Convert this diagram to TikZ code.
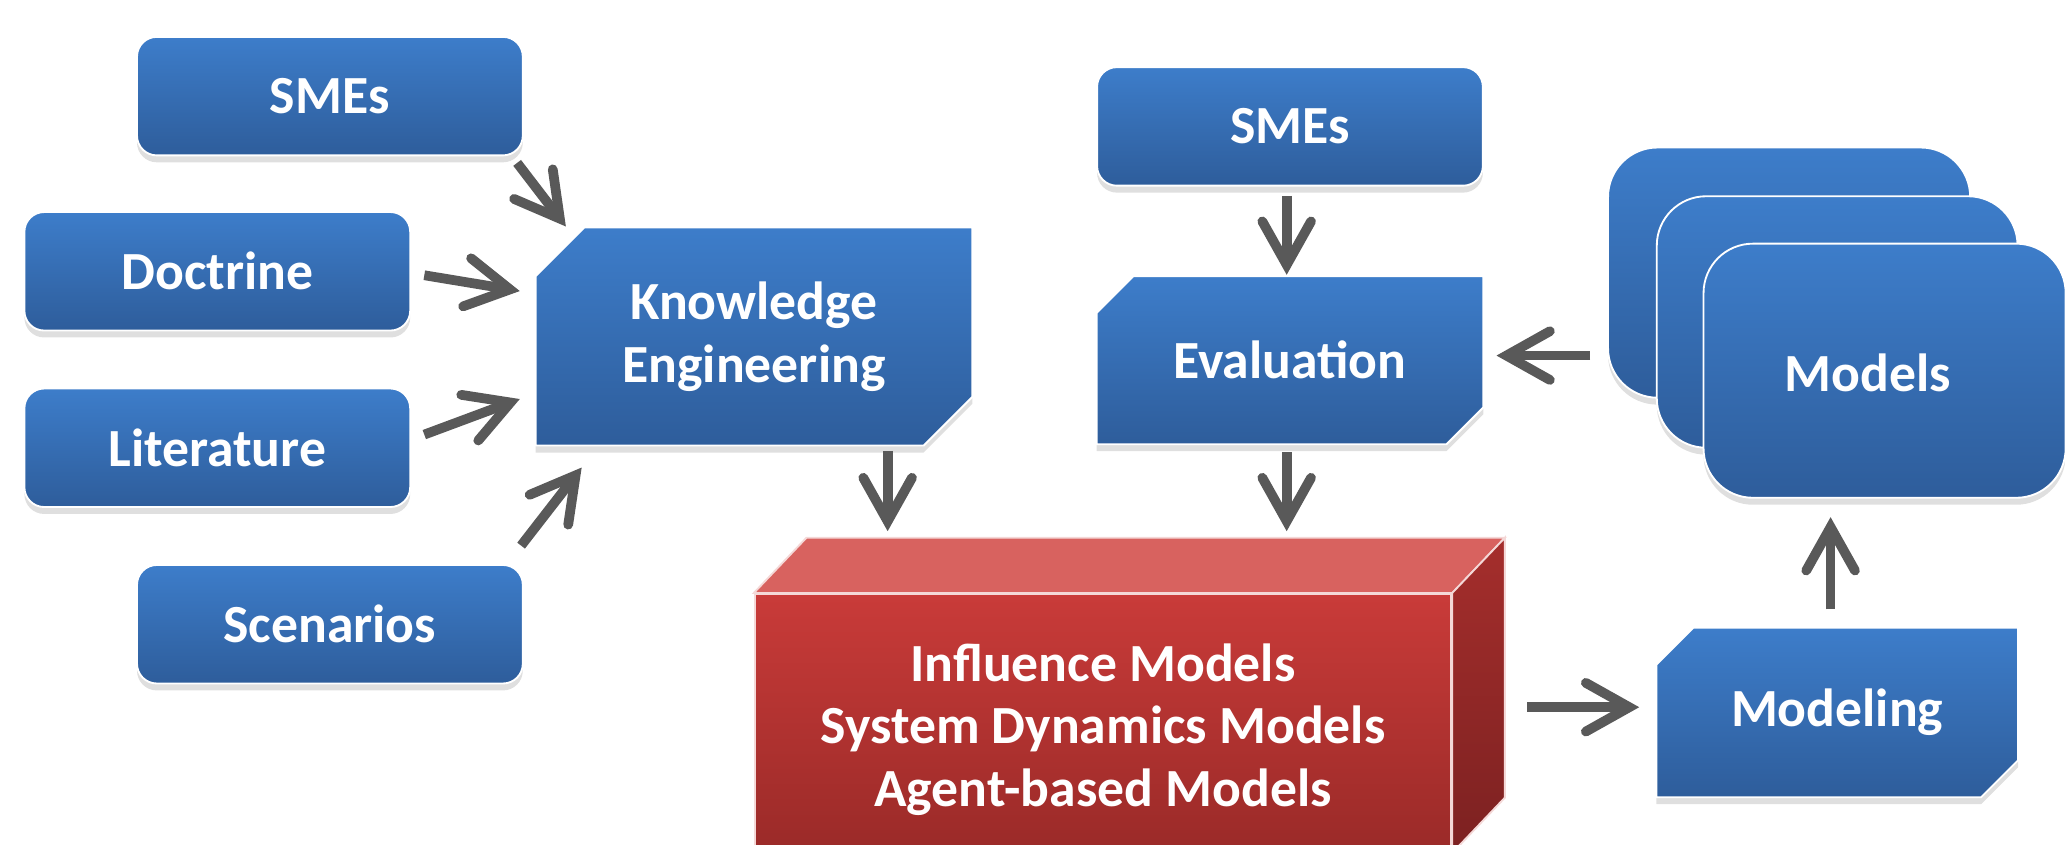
\documentclass[tikz,border=0pt]{standalone}
\usepackage{fontspec}
\setmainfont{Carlito}
\usetikzlibrary{arrows.meta,shadows,calc,backgrounds}
\definecolor{btop}{HTML}{3D7DCA}
\definecolor{bbot}{HTML}{2E5D9B}
\definecolor{rtop}{HTML}{C93B39}
\definecolor{rbot}{HTML}{9A2A28}
\definecolor{rtopface}{HTML}{D8625F}
\definecolor{rside1}{HTML}{A52E2C}
\definecolor{rside2}{HTML}{7C2121}
\definecolor{arr}{HTML}{595959}
\tikzset{
 fillstyle/.style={draw=white, line width=0.8pt, top color=btop, bottom color=bbot,
   drop shadow={shadow xshift=0pt, shadow yshift=-3pt, opacity=0.25}},
 lbl/.style={text=white, font=\fontsize{23.2}{27}\selectfont\bfseries, align=center, inner sep=0pt},
 base/.style={fillstyle, lbl},
 rbox/.style={base, rectangle, rounded corners=0.3cm, minimum width=5.86cm, minimum height=1.8cm},
 cbox/.style={lbl, rectangle},
 mbox/.style={base, rectangle, rounded corners=0.75cm},
 flow/.style={draw=arr, line width=4.2pt, -{Straight Barb[length=0.66cm,width=0.74cm,line cap=round,line join=miter]}},
}
\begin{document}
\begin{tikzpicture}[x=0.02cm, y=-0.02cm]
\useasboundingbox (0,0) rectangle (1568,641);
\clip (0,0) rectangle (1568,641);
% left inputs
\node[rbox] (sme1) at (250.5,73) {SMEs};
\node[rbox] (doc) at (165,206) {Doctrine};
\node[rbox] (lit) at (165,340) {Literature};
\node[rbox] (scen) at (250.5,474) {Scenarios};
% chamfered boxes (text nodes; outlines drawn on the background layer)
\node[cbox, minimum width=6.62cm, minimum height=3.3cm] (ke) at (572.5,255.5) {Knowledge\\Engineering};
\node[rbox] (sme2) at (979.5,96) {SMEs};
\node[cbox, minimum width=5.86cm, minimum height=2.54cm] (eval) at (979.5,273.5) {Evaluation};
\node[cbox, minimum width=5.48cm, minimum height=2.56cm] (modeling) at (1395,541) {Modeling};
\begin{scope}[on background layer]
\path[fillstyle] ($(ke.north west)+(37,0)$) -- (ke.north east) -- ($(ke.south east)+(0,-37)$) -- ($(ke.south east)+(-37,0)$) -- (ke.south west) -- ($(ke.north west)+(0,37)$) -- cycle;
\path[fillstyle] ($(eval.north west)+(28,0)$) -- (eval.north east) -- ($(eval.south east)+(0,-28)$) -- ($(eval.south east)+(-28,0)$) -- (eval.south west) -- ($(eval.north west)+(0,28)$) -- cycle;
\path[fillstyle] ($(modeling.north west)+(28,0)$) -- (modeling.north east) -- ($(modeling.south east)+(0,-28)$) -- ($(modeling.south east)+(-28,0)$) -- (modeling.south west) -- ($(modeling.north west)+(0,28)$) -- cycle;
\end{scope}
% models stack
\node[mbox, minimum width=5.5cm, minimum height=3.8cm] (mback) at (1358.5,207) {};
\node[mbox, minimum width=5.48cm, minimum height=3.82cm] (mmid) at (1395,244.5) {};
\node[mbox, minimum width=5.5cm, minimum height=3.86cm] (mfront) at (1431,281.5) {};
\node[lbl] (mlabel) at (1418,283) {Models};
% red box
\node[draw=white!80!rtop, line width=0.8pt, top color=rtop, bottom color=rbot, minimum width=10.58cm, minimum height=3.92cm] (red) at (837.5,549) {};
\fill[rtopface, draw=white!80!rtop, line width=0.8pt] (red.north west) -- ++(40,-42) -- ($(red.north east)+(40,-42)$) -- (red.north east) -- cycle;
\shade[top color=rside1, bottom color=rside2, draw=white!80!rtop, line width=0.8pt] (red.north east) -- ++(40,-42) -- ($(red.south east)+(40,-42)$) -- (red.south east) -- cycle;
\node[lbl] (redlabel) at (837.5,554) {Influence Models\\System Dynamics Models\\Agent-based Models};
% arrows
\draw[flow] ($(sme1.south east)+(-5,5)$) -- ($(ke.west)+(23,-83.5)$);
\draw[flow] ($(doc.east)+(10,3)$) -- ($(ke.west)+(-12,-34.5)$);
\draw[flow] ($(lit.east)+(10,-10)$) -- ($(ke.west)+(-12,47.5)$);
\draw[flow] ($(scen.north east)+(-2,-14)$) -- ($(ke.west)+(35,99.5)$);
\draw[flow] ($(ke.south)+(101.5,4)$) -- ($(ke.south)+(101.5,65)$);
\draw[flow] ($(sme2.south)+(-2.5,7)$) -- ($(eval.north)+(-2.5,-1)$);
\draw[flow] ($(mback.west)+(-13,63)$) -- ($(eval.east)+(10,-3.5)$);
\draw[flow] ($(eval.south)+(-2.5,6)$) -- ($(eval.south)+(-2.5,66)$);
\draw[flow] ($(red.east)+(57,-12)$) -- ($(modeling.west)+(-13,-4)$);
\draw[flow] ($(modeling.north)+(-5,-14)$) -- ($(mfront.south)+(-41,14)$);
\end{tikzpicture}
\end{document}
